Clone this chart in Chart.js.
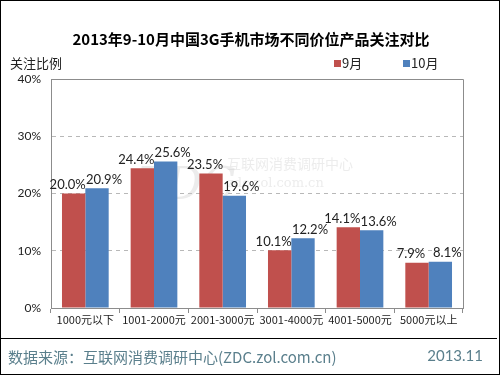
<!DOCTYPE html>
<html>
<head>
<meta charset="utf-8">
<script src="https://cdn.jsdelivr.net/npm/chart.js@4/dist/chart.umd.min.js"></script>
<style>
  body { margin: 0; background: #fff; }
  #wrap { position: relative; width: 500px; height: 375px; box-sizing: border-box; border: 1px solid #000; overflow: hidden; font-family: "Noto Sans CJK SC", "DejaVu Sans", sans-serif; }
  #title { position: absolute; top: 27px; left: 0; width: 500px; text-align: center; font-size: 15px; font-weight: bold; color: #000; }
  #chartBox { position: absolute; left: 0; top: 0; width: 500px; height: 340px; }
  #rule { position: absolute; left: 0; top: 337px; width: 496px; height: 0; border-top: 1px solid #000; }
  #source { position: absolute; left: 7px; top: 345px; font-size: 15px; color: #5a7f8c; }
  #date { position: absolute; right: 16px; top: 345px; font-size: 15px; color: #5a7f8c; font-family: "Lato", "DejaVu Sans", sans-serif; }
</style>
</head>
<body>
<div id="wrap">
  <div id="chartBox"><canvas id="c" width="500" height="340"></canvas></div>
  <div id="title">2013年9-10月中国3G手机市场不同价位产品关注对比</div>
  <div id="rule"></div>
  <div id="source">数据来源：互联网消费调研中心(ZDC.zol.com.cn)</div>
  <div id="date">2013.11</div>
</div>
<script>
var categories = ["1000元以下", "1001-2000元", "2001-3000元", "3001-4000元", "4001-5000元", "5000元以上"];
var sept = [20.0, 24.4, 23.5, 10.1, 14.1, 7.9];
var oct = [20.9, 25.6, 19.6, 12.2, 13.6, 8.1];
var seriesNames = ["9月", "10月"];
var yTicks = [0, 10, 20, 30, 40];
var yLabel = "关注比例";

var numFont = '"Lato", "DejaVu Sans", sans-serif';
var cjkFont = '"Noto Sans CJK SC", "DejaVu Sans", sans-serif';

// extra drawing: frame, value labels, legend, axis label, watermark
var extras = {
    id: 'extras',
    beforeDatasetsDraw: function(chart) {
        var ctx = chart.ctx;
        ctx.save();
        // faint watermark
        ctx.fillStyle = 'rgba(200,200,200,0.35)';
        ctx.font = 'italic 44px "DejaVu Serif", serif';
        ctx.textBaseline = 'alphabetic';
        ctx.fillText('ZDC', 135, 198);
        ctx.font = '14px ' + cjkFont;
        ctx.fillText('互联网消费调研中心', 226, 168);
        ctx.font = '13px "DejaVu Serif", serif';
        ctx.fillText('zdc.zol.com.cn', 226, 186);
        ctx.restore();
    },
    afterDraw: function(chart) {
        var ctx = chart.ctx, a = chart.chartArea;
        ctx.save();
        ctx.strokeStyle = '#8c8c8c';
        ctx.lineWidth = 1;
        ctx.beginPath();
        ctx.moveTo(a.left + 0.5, a.top + 0.5);
        ctx.lineTo(a.right + 0.5, a.top + 0.5);
        ctx.lineTo(a.right + 0.5, a.bottom + 0.5);
        ctx.stroke();

        // value labels, pushed slightly outward like the original
        var shift = [-6, 7];
        ctx.fillStyle = '#222';
        ctx.font = '13px ' + numFont;
        ctx.textAlign = 'center';
        ctx.textBaseline = 'bottom';
        chart.data.datasets.forEach(function(ds, i) {
            var meta = chart.getDatasetMeta(i);
            meta.data.forEach(function(bar, j) {
                ctx.fillText(ds.data[j].toFixed(1) + '%', bar.x + shift[i], bar.y - 2);
            });
        });

        // axis title
        ctx.textAlign = 'left';
        ctx.textBaseline = 'middle';
        ctx.fillStyle = '#222';
        ctx.font = '13px ' + cjkFont;
        ctx.fillText(yLabel, 9, 62);

        // legend
        var lx = [333, 402];
        chart.data.datasets.forEach(function(ds, i) {
            ctx.fillStyle = ds.backgroundColor;
            ctx.fillRect(lx[i], 59, 7, 7);
            ctx.fillStyle = '#222';
            ctx.fillText(ds.label, lx[i] + 8, 62);
        });
        ctx.restore();
    }
};

new Chart(document.getElementById('c'), {
    type: 'bar',
    data: {
        labels: categories,
        datasets: [
            { label: seriesNames[0], data: sept, backgroundColor: '#c0504d' },
            { label: seriesNames[1], data: oct, backgroundColor: '#4f81bd' }
        ]
    },
    options: {
        responsive: false,
        animation: false,
        layout: { padding: { top: 78, right: 38, left: 0, bottom: 0 } },
        plugins: { legend: { display: false }, title: { display: false }, tooltip: { enabled: false } },
        datasets: { bar: { categoryPercentage: 0.68, barPercentage: 1.0 } },
        scales: {
            x: {
                grid: { drawOnChartArea: false, tickLength: 5, color: '#8c8c8c', offset: true },
                border: { color: '#8c8c8c' },
                ticks: { color: '#222', font: { family: cjkFont, size: 11 }, padding: 0, maxRotation: 0 },
                afterFit: function(s) { s.height = 33; }
            },
            y: {
                min: 0, max: 40,
                afterBuildTicks: function(s) { s.ticks = yTicks.map(function(v) { return { value: v }; }); },
                grid: { color: '#b8b8b8', drawTicks: false },
                border: { color: '#8c8c8c', dash: [4, 4] },
                ticks: { color: '#222', font: { family: numFont, size: 12 }, padding: 10, callback: function(v) { return v + '%'; } },
                afterFit: function(s) { s.width = 50; }
            }
        }
    },
    plugins: [extras]
});
</script>
</body>
</html>
